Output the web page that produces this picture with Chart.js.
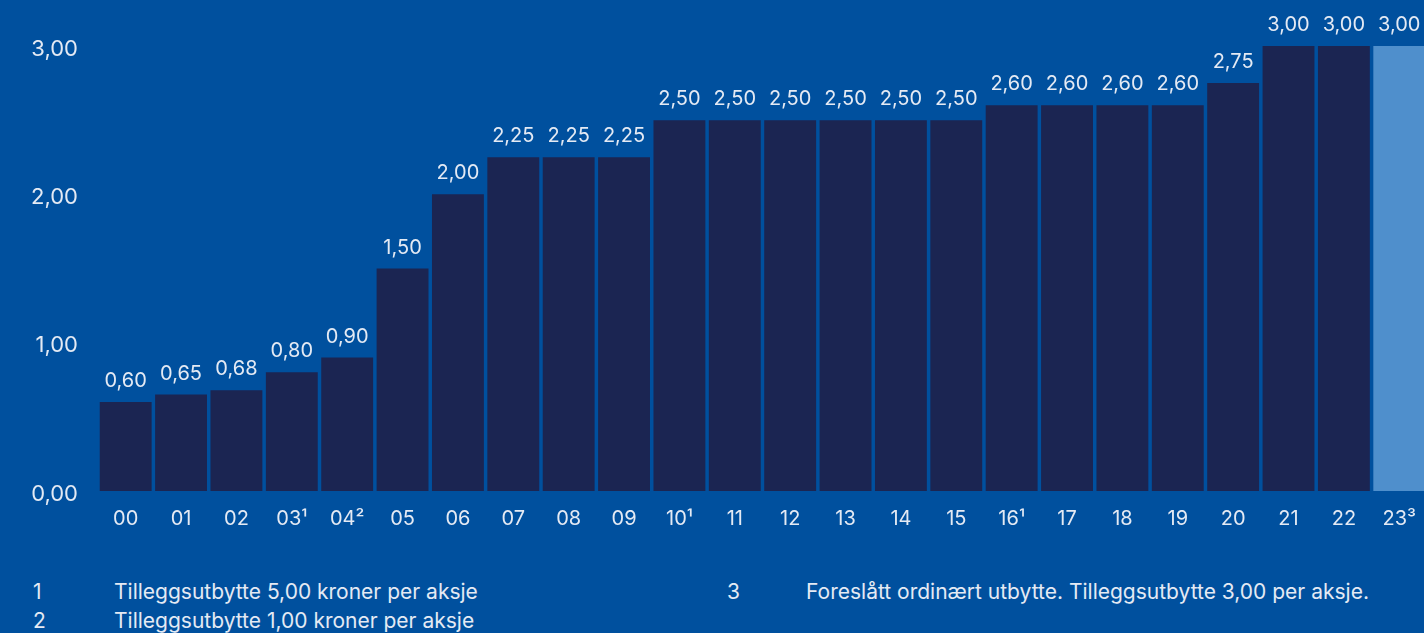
<!DOCTYPE html>
<html>
<head>
<meta charset="utf-8">
<script src="https://cdn.jsdelivr.net/npm/chart.js@4"></script>
<style>
  html, body { margin: 0; padding: 0; background: #00509e; overflow: hidden; width: 1424px; height: 633px; }
  #wrap { position: absolute; left: 0; top: 0; width: 1432px; height: 560px; }
  .note { position: absolute; color: #e4eaf4; font-family: Inter, sans-serif; font-size: 21px; white-space: nowrap; }
</style>
</head>
<body>
<div id="wrap"><canvas id="chart" width="1432" height="560"></canvas></div>
<div class="note" style="left:33px; top:579px">1</div>
<div class="note" style="left:114px; top:579px">Tilleggsutbytte 5,00 kroner per aksje</div>
<div class="note" style="left:33px; top:608px">2</div>
<div class="note" style="left:114px; top:608px">Tilleggsutbytte 1,00 kroner per aksje</div>
<div class="note" style="left:727px; top:579px">3</div>
<div class="note" style="left:806px; top:579px">Foreslått ordinært utbytte. Tilleggsutbytte 3,00 per aksje.</div>
<script>
// utbytte per aksje
const aar = ["00", "01", "02", "03¹", "04²", "05", "06", "07", "08", "09", "10¹", "11", "12",
  "13", "14", "15", "16¹", "17", "18", "19", "20", "21", "22", "23³"];
const utbytte = [0.60, 0.65, 0.68, 0.80, 0.90, 1.50, 2.00, 2.25, 2.25, 2.25, 2.50, 2.50, 2.50,
  2.50, 2.50, 2.50, 2.60, 2.60, 2.60, 2.60, 2.75, 3.00, 3.00, 3.00];
const yTicks = [0, 1, 2, 3];

const tekst = "#e4eaf4";
const fmt = v => v.toFixed(2).replace(".", ",");

// verdier over søylene
const verdiLabels = {
  id: "verdiLabels",
  afterDatasetsDraw(chart) {
    const c = chart.ctx;
    const meta = chart.getDatasetMeta(0);
    c.save();
    c.fillStyle = tekst;
    c.font = "20px Inter, sans-serif";
    c.textAlign = "center";
    c.textBaseline = "alphabetic";
    meta.data.forEach((bar, i) => {
      c.fillText(fmt(utbytte[i]), bar.x, bar.y - 15);
    });
    c.restore();
  }
};

new Chart(document.getElementById("chart"), {
  type: "bar",
  data: {
    labels: aar,
    datasets: [{
      data: utbytte,
      backgroundColor: utbytte.map((v, i) => i === utbytte.length - 1 ? "#4f8fcc" : "#1b2552"),
      borderWidth: 0,
      barPercentage: 1,
      categoryPercentage: 0.937
    }]
  },
  options: {
    responsive: false,
    animation: false,
    layout: { padding: { top: 46, left: 0, right: 0, bottom: 0 } },
    plugins: { legend: { display: false }, tooltip: { enabled: false } },
    scales: {
      x: {
        grid: { display: false, drawTicks: false },
        border: { display: false },
        ticks: { color: tekst, font: { family: "Inter", size: 20 }, padding: 16, maxRotation: 0, autoSkip: false },
        afterFit(s) { s.height = 69; }
      },
      y: {
        min: 0,
        max: 3,
        afterBuildTicks(s) { s.ticks = yTicks.map(v => ({ value: v })); },
        grid: { display: false, drawTicks: false },
        border: { display: false },
        ticks: { color: tekst, font: { family: "Inter", size: 22 }, padding: 20, labelOffset: 3, callback: v => fmt(v) },
        afterFit(s) { s.width = 98; }
      }
    }
  },
  plugins: [verdiLabels]
});
</script>
</body>
</html>
